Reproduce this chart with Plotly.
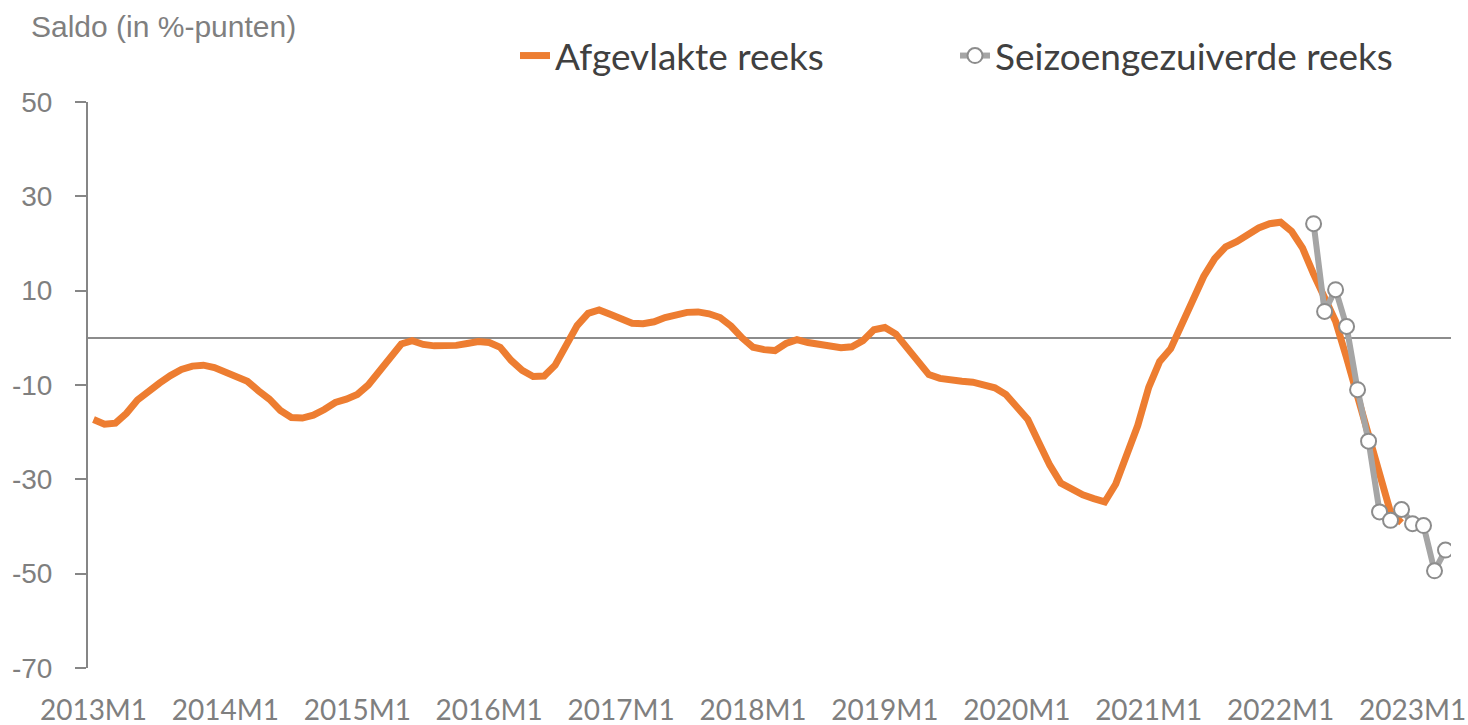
import plotly.graph_objects as go

# Month labels on the category axis (one every 12 months)
tick_labels = ["2013M1", "2014M1", "2015M1", "2016M1", "2017M1", "2018M1",
               "2019M1", "2020M1", "2021M1", "2022M1", "2023M1"]
n_months = 124  # 2013M1 .. 2023M4

# y-axis ticks (Excel style, hyphen-minus)
y_ticks = [-70, -50, -30, -10, 10, 30, 50]
y_tick_text = ["-70", "-50", "-30", "-10", "10", "30", "50"]

# Afgevlakte reeks: 2013M1 .. 2022M12
smoothed = [
    -17.3, -18.3, -18.1, -16.0, -13.2, -11.2, -9.6, -8.0, -6.7, -6.0,
    -5.8, -6.3, -7.3, -8.1, -9.2, -11.2, -13.0, -15.4, -16.9, -17.0,
    -16.4, -15.2, -13.7, -13.0, -12.0, -10.0, -7.2, -4.0, -1.3, -0.6,
    -1.4, -1.7, -1.8, -1.6, -1.2, -0.8, -1.0, -2.0, -4.8, -6.9,
    -8.2, -8.1, -5.8, -1.3, 2.6, 5.2, 5.9, 5.0, 4.0, 3.1,
    3.0, 3.4, 4.3, 5.0, 5.4, 5.5, 5.1, 4.3, 2.5, 0.0,
    -2.0, -2.5, -2.7, -1.2, -0.4, -1.0, -1.4, -1.8, -2.1, -1.9,
    -0.6, 1.7, 2.2, 0.8, -2.2, -5.3, -7.8, -8.6, -9.0, -9.2,
    -9.4, -9.9, -10.6, -12.0, -14.6, -17.3, -22.2, -27.0, -30.8, -32.1,
    -33.3, -34.1, -34.8, -31.0, -25.0, -18.6, -10.5, -5.0, -2.3, 2.8,
    8.3, 13.0, 16.8, 19.3, 20.4, 21.8, 23.3, 24.2, 24.5, 22.6,
    19.0, 13.5, 8.5, 3.5, -4.2, -12.5, -19.5, -29.0, -37.0, -39.2,
]

# Seizoengezuiverde reeks: 2022M4 .. 2023M4
adjusted_start = 111
adjusted = [24.2, 5.6, 10.2, 2.4, -11.0, -21.9, -36.9, -38.7, -36.4,
            -39.4, -39.8, -49.4, -45.0]

x_smoothed = list(range(len(smoothed)))
x_adjusted = list(range(adjusted_start, adjusted_start + len(adjusted)))

ORANGE = "#ED7D31"
GRAY = "#A5A5A5"
AXIS_GRAY = "#868686"
TEXT_GRAY = "#7F7F7F"

fig = go.Figure()
fig.add_trace(go.Scatter(
    x=x_smoothed, y=smoothed, mode="lines", name="Afgevlakte reeks",
    line=dict(color=ORANGE, width=7),
))
fig.add_trace(go.Scatter(
    x=x_adjusted, y=adjusted, mode="lines+markers", name="Seizoengezuiverde reeks",
    line=dict(color=GRAY, width=6),
    marker=dict(symbol="circle", size=15, color="white",
                line=dict(color="#8C8C8C", width=2)),
))

fig.update_layout(
    width=1468, height=725,
    margin=dict(l=88, r=17, t=102, b=57, autoexpand=False),
    paper_bgcolor="white", plot_bgcolor="white",
    showlegend=True,
    legend=dict(orientation="h", xref="container", yref="container",
                x=515 / 1468, y=1 - 56 / 725, xanchor="left", yanchor="middle",
                font=dict(family="Lato, Calibri, sans-serif", size=37, color="#404040"),
                bgcolor="rgba(0,0,0,0)", itemwidth=30, traceorder="normal",
                entrywidth=395, entrywidthmode="pixels"),
    annotations=[dict(text="Saldo (in %-punten)", xref="paper", yref="paper",
                      x=(29 - 88) / 1363, y=1 + (102 - 27) / 566,
                      xanchor="left", yanchor="middle", showarrow=False,
                      font=dict(family="Liberation Sans, Arial, sans-serif",
                                size=30, color=TEXT_GRAY))],
)

fig.update_xaxes(
    range=[-0.5, n_months - 0.5],
    tickmode="array",
    tickvals=[i * 12 for i in range(len(tick_labels))],
    ticktext=tick_labels,
    showgrid=False, zeroline=False, showline=False,
    ticks="outside", ticklen=17, tickcolor="rgba(0,0,0,0)",
    ticklabeloverflow="allow",
    tickfont=dict(family="Lato, Calibri, sans-serif", size=28, color=TEXT_GRAY),
    tickangle=0,
)
fig.update_yaxes(
    range=[-70, 50], tickmode="array", tickvals=y_ticks, ticktext=y_tick_text,
    showgrid=False,
    zeroline=True, zerolinecolor="#8C8C8C", zerolinewidth=1.5,
    showline=True, linecolor=AXIS_GRAY, linewidth=2,
    ticks="outside", ticklen=11, tickwidth=2, tickcolor=AXIS_GRAY,
    ticklabelstandoff=17,
    tickfont=dict(family="Liberation Sans, Arial, sans-serif", size=28, color=TEXT_GRAY),
)

fig.write_html(
    "out.html",
    config={"displayModeBar": False},
    post_script="document.body.style.margin='0';document.body.style.padding='0';"
                "document.body.style.overflow='hidden';",
)
